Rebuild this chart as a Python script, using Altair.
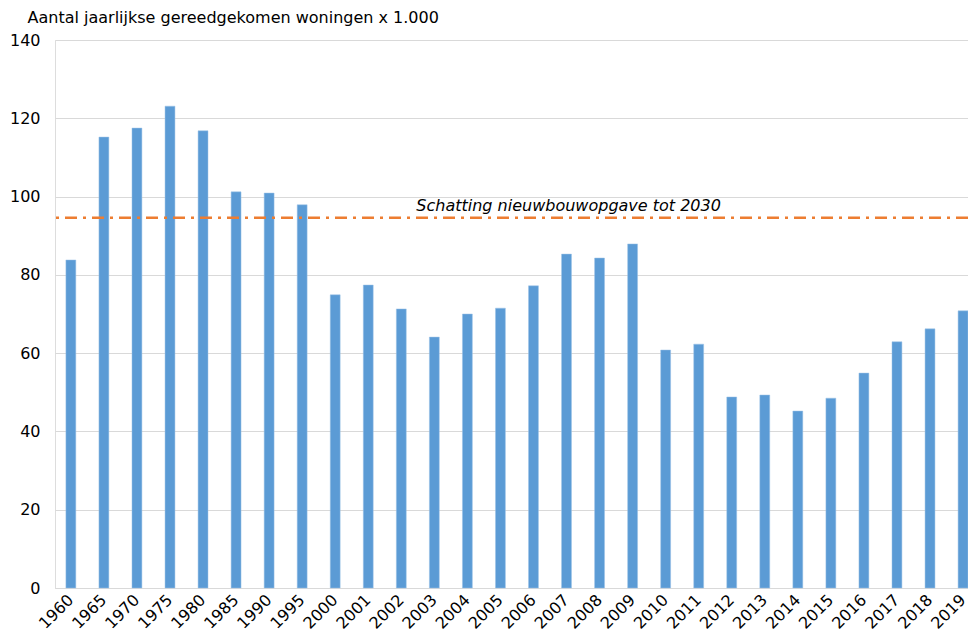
import altair as alt
import pandas as pd

years = ["1960", "1965", "1970", "1975", "1980", "1985", "1990", "1995",
         "2000", "2001", "2002", "2003", "2004", "2005", "2006", "2007",
         "2008", "2009", "2010", "2011", "2012", "2013", "2014", "2015",
         "2016", "2017", "2018", "2019"]
values = [83.8, 115.2, 117.5, 123.1, 116.8, 101.2, 100.9, 97.9,
          74.9, 77.4, 71.3, 64.1, 70.0, 71.5, 77.2, 85.3,
          84.3, 87.9, 60.8, 62.3, 48.8, 49.3, 45.2, 48.5,
          54.9, 62.9, 66.2, 70.8]
target_value = 94.6
target_label = "Schatting nieuwbouwopgave tot 2030"
y_title = "Aantal jaarlijkse gereedgekomen woningen x 1.000"
y_ticks = [0, 20, 40, 60, 80, 100, 120, 140]

df = pd.DataFrame({"jaar": years, "waarde": values})
FONT = "DejaVu Sans"
FS = 16

xscale = alt.Scale(domain=years, paddingInner=0.7, paddingOuter=0.165, align=1)
yscale = alt.Scale(domain=[0, 140])

bars = alt.Chart(df).mark_bar(color="#5B9BD5", stroke="#9DC3E6", strokeWidth=0.5).encode(
    x=alt.X("jaar:N", scale=xscale, sort=years,
            axis=alt.Axis(title=None, labelAngle=-45, labelAlign="right",
                          labelBaseline="middle", labelPadding=9, ticks=False,
                          domainColor="#D9D9D9", labelFont=FONT, labelFontSize=FS,
                          labelColor="#000000", labelOverlap=False)),
    y=alt.Y("waarde:Q", scale=yscale,
            axis=alt.Axis(values=y_ticks, title=y_title, titleAngle=0, titleAlign="left",
                          titleBaseline="alphabetic", titleX=-28, titleY=-18,
                          titleFont=FONT, titleFontSize=FS, titleFontWeight="normal",
                          titleColor="#000000", labelFont=FONT, labelFontSize=FS,
                          labelColor="#000000", labelPadding=15, ticks=False,
                          domain=False, gridColor="#D9D9D9", gridWidth=1)),
)

tdf = pd.DataFrame({"v": [target_value], "label": [target_label]})
rule = alt.Chart(tdf).mark_rule(color="#ED7D31", strokeWidth=2.5,
                                strokeDash=[12, 6, 3, 6]).encode(
    y=alt.Y("v:Q", scale=yscale),
)
text = alt.Chart(tdf).mark_text(align="left", baseline="alphabetic", dx=-18, dy=-7,
                                font=FONT, fontSize=FS, fontStyle="italic",
                                color="#000000").encode(
    x=alt.datum("2003", scale=xscale),
    y=alt.Y("v:Q", scale=yscale),
    text="label:N",
)

chart = alt.layer(bars, rule, text).properties(
    width=913, height=548,
    autosize=alt.AutoSizeParams(type="none"),
    padding={"left": 47, "top": 32, "right": 0, "bottom": 44},
).configure_view(stroke=None).configure(background="white")

chart.save("out.html", embed_options={"renderer": "svg", "actions": False})
